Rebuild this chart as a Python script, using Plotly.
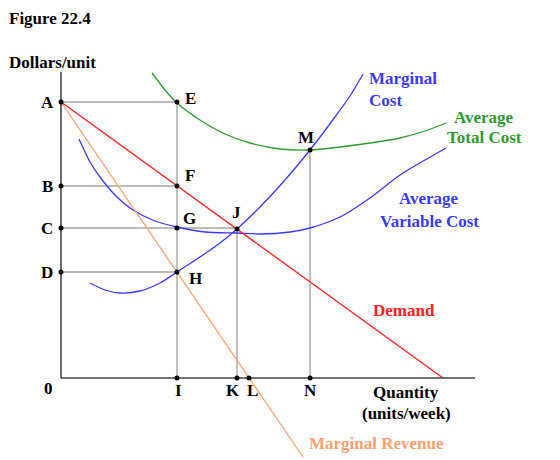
import plotly.graph_objects as go

# Data units: quantity (x) and dollars/unit (y), origin at the axes corner
# Key price levels
price_names = ["A", "B", "C", "D"]
price_levels = [276, 192, 150, 106]

# Key quantities
qty_names = ["I", "K", "L", "N"]
qty_levels = [116, 176, 188, 249]

# Demand and marginal revenue (linear)
demand_q = [0, 382]
demand_p = [276, 0]
mr_q = [0, 242]
mr_p = [276, -79]

# Marginal cost
mc_q = [29, 44, 59, 79, 99, 116, 139, 159, 176, 199, 224, 249, 274, 289, 302]
mc_p = [95, 88, 85, 87, 95, 106, 121, 135, 149, 171, 198, 228, 261, 282, 304]

# Average variable cost
avc_q = [18, 24, 29, 39, 54, 72, 94, 116, 144, 176, 199, 229, 249, 279, 309, 339, 364, 385]
avc_p = [239, 226, 216, 201, 183, 168, 157, 151, 146, 145, 144, 146, 150, 161, 180, 203, 218, 230]

# Average total cost
atc_q = [91, 104, 116, 139, 164, 189, 219, 249, 279, 309, 339, 364, 385]
atc_p = [305, 288, 275, 258, 244, 235, 229, 228, 231, 235, 240, 247, 255]

# Labelled points
E = (116, 276); F = (116, 192); G = (116, 150); H = (116, 106)
J = (176, 149); M = (249, 228)

GRAY = "#a6a6a6"
BLUE = "#3a3aff"
GREEN = "#2e9a2e"
RED = "#ff2020"
ORANGE = "#ffa072"
FONT = "Liberation Serif"

fig = go.Figure()

def line(x, y, color, width=1.4, shape="linear"):
    fig.add_trace(go.Scatter(x=x, y=y, mode="lines",
                             line=dict(color=color, width=width, shape=shape, smoothing=0.8),
                             hoverinfo="skip", showlegend=False))

# guide lines
line([0, E[0]], [E[1], E[1]], GRAY)
line([0, F[0]], [F[1], F[1]], GRAY)
line([0, J[0]], [J[1] + 1, J[1] + 1], GRAY)
line([0, H[0]], [H[1], H[1]], GRAY)
line([E[0], E[0]], [E[1], 0], GRAY)
line([J[0], J[0]], [J[1], 0], GRAY)
line([M[0], M[0]], [M[1], 0], GRAY)

# curves
line(atc_q, atc_p, GREEN, 1.3, "spline")
line(avc_q, avc_p, BLUE, 1.3, "spline")
line(mc_q, mc_p, BLUE, 1.3, "spline")
line(mr_q, mr_p, ORANGE, 1.3)
line(demand_q, demand_p, RED, 1.3)

# axes
line([0, 0], [306, 0], "#444444", 1.6)
line([0, 414], [0, 0], "#444444", 1.6)

# dots
dot_x = [0] * len(price_levels) + [E[0], F[0], G[0], H[0], J[0], M[0]] + qty_levels
dot_y = price_levels + [E[1], F[1], G[1], H[1], J[1], M[1]] + [0] * len(qty_levels)
fig.add_trace(go.Scatter(x=dot_x, y=dot_y, mode="markers",
                         marker=dict(color="black", size=5), hoverinfo="skip", showlegend=False))

def label(x, y, text, color="black", xanchor="center", yanchor="middle", size=17):
    fig.add_annotation(x=x, y=y, text="<b>" + text + "</b>", showarrow=False,
                       xanchor=xanchor, yanchor=yanchor,
                       font=dict(family=FONT, size=size, color=color))

for n, p in zip(price_names, price_levels):
    label(-14, p, n)
label(-13, -10, "0")
for n, q, dx in zip(qty_names, qty_levels, [1, -4, 3, 0]):
    label(q + dx, -12, n)

label(E[0] + 13, E[1] + 4, "E")
label(F[0] + 13, F[1] + 11, "F")
label(G[0] + 12, G[1] + 10, "G")
label(H[0] + 18, H[1] - 6, "H")
label(J[0] - 1, J[1] + 17, "J")
label(M[0] - 4, M[1] + 13, "M")

label(306, 300, "Marginal", BLUE, xanchor="left")
label(306, 278, "Cost", BLUE, xanchor="left")
label(423, 261, "Average", GREEN)
label(423, 241, "Total Cost", GREEN)
label(368, 180, "Average", BLUE)
label(368, 157, "Variable Cost", BLUE)
label(343, 68, "Demand", RED)
label(345, -14, "Quantity")
label(345, -35, "(units/week)")
label(315, -65, "Marginal Revenue", ORANGE)

label(-54, 360, "Figure 22.4", xanchor="left")
label(-54, 316, "Dollars/unit", xanchor="left")

fig.update_layout(
    width=560, height=460,
    margin=dict(l=0, r=0, t=0, b=0),
    paper_bgcolor="white", plot_bgcolor="white",
    xaxis=dict(range=[-61, 499], visible=False, fixedrange=True),
    yaxis=dict(range=[-82, 378], visible=False, fixedrange=True),
    showlegend=False,
)

fig.write_html("out.html")
